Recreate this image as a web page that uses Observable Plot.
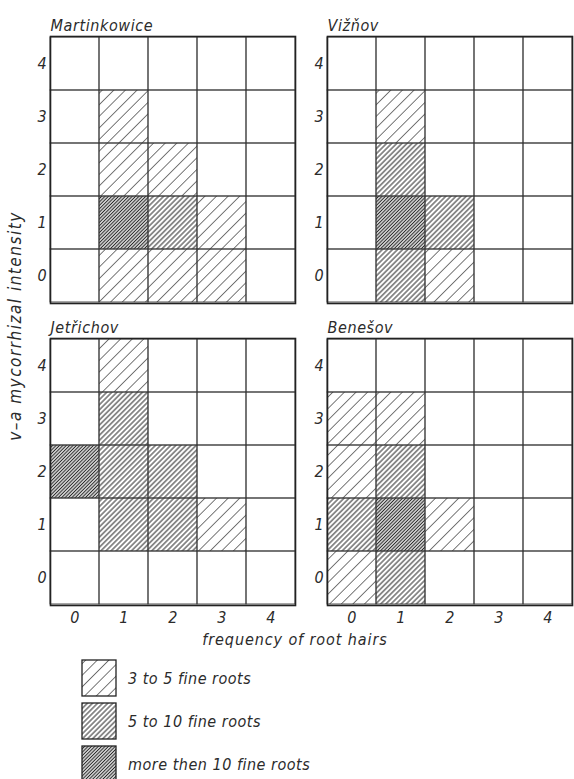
<!DOCTYPE html>
<html><head><meta charset="utf-8">
<script src="https://cdn.jsdelivr.net/npm/d3@7"></script>
<script src="https://cdn.jsdelivr.net/npm/@observablehq/plot@0.6"></script>
<style>
body{margin:0;background:#fff;}
#wrap{position:relative;width:574px;height:779px;overflow:hidden;background:#fff;
  font-family:"DejaVu Sans Condensed","Liberation Sans Narrow","DejaVu Sans",sans-serif;font-style:italic;color:#2b2b2b;}
#chart{position:absolute;left:0;top:0;}
.xlabel{position:absolute;left:0;width:590px;top:630px;text-align:center;font-size:16px;letter-spacing:0.9px;white-space:nowrap;}
.ylabel{position:absolute;left:15px;top:326px;transform:translate(-50%,-50%) rotate(-90deg);font-size:17px;letter-spacing:1.5px;white-space:nowrap;}
#legend{position:absolute;left:81px;top:660px;}
.item{display:flex;align-items:center;height:36px;margin-bottom:7px;}
.item svg{display:block;margin-right:11px;}
.item span{font-size:16px;letter-spacing:0.5px;}
</style></head><body><div id="wrap"><div id="chart"></div>
<div class="xlabel">frequency of root hairs</div>
<div class="ylabel">v–a mycorrhizal intensity</div>
<div id="legend"></div></div>
<script>
const sites = ["Martinkowice", "Vižňov", "Jetřichov", "Benešov"];
const siteCol = ["left", "right", "left", "right"];
const siteRow = ["top", "top", "bottom", "bottom"];
const rootHairTicks = [0, 1, 2, 3, 4];
const intensityTicks = [0, 1, 2, 3, 4];
const levels = [1, 2, 3];
const levelLabels = ["3 to 5 fine roots", "5 to 10 fine roots", "more then 10 fine roots"];
// [frequency of root hairs, v-a mycorrhizal intensity, fine-root class]
const martinkowiceCells = [[1,3,1],[1,2,1],[2,2,1],[1,1,3],[2,1,2],[3,1,1],[1,0,1],[2,0,1],[3,0,1]];
const viznovCells = [[1,3,1],[1,2,2],[1,1,3],[2,1,2],[1,0,2],[2,0,1]];
const jetrichovCells = [[1,4,1],[1,3,2],[0,2,3],[1,2,2],[2,2,2],[1,1,2],[2,1,2],[3,1,1]];
const benesovCells = [[0,3,1],[1,3,1],[0,2,1],[1,2,2],[0,1,2],[1,1,3],[2,1,1],[0,0,1],[1,0,2]];

const siteCells = [martinkowiceCells, viznovCells, jetrichovCells, benesovCells];
const cells = siteCells.flatMap((arr, i) => arr.map(([x, y, level]) =>
  ({site: sites[i], col: siteCol[i], row: siteRow[i], x, y, level})));
const grid = sites.flatMap((s, i) => rootHairTicks.flatMap(x => intensityTicks.map(y =>
  ({site: s, col: siteCol[i], row: siteRow[i], x, y}))));
const siteTable = sites.map((s, i) => ({site: s, col: siteCol[i], row: siteRow[i]}));
const xTickTable = rootHairTicks.map(x => ({x, row: "bottom"}));

const hatch = {1: {s: 8.2, c: "#6a6a6a", w: 0.9}, 2: {s: 3.6, c: "#3a3a3a", w: 1.1}, 3: {s: 2.4, c: "#262626", w: 1.2}};

const font = '"DejaVu Sans Condensed","Liberation Sans Narrow","DejaVu Sans",sans-serif';
const plot = Plot.plot({
  width: 574, height: 655,
  marginLeft: 50, marginRight: 1, marginTop: 35, marginBottom: 49,
  style: {fontFamily: font, fontStyle: "italic", color: "#2b2b2b", background: "white", overflow: "visible", letterSpacing: "0.6px"},
  x: {type: "band", domain: rootHairTicks, padding: 0, axis: null},
  y: {type: "band", domain: intensityTicks.slice().reverse(), padding: 0, axis: null},
  fx: {domain: ["left", "right"], padding: 0.115, axis: null},
  fy: {domain: ["top", "bottom"], padding: 0.1155, axis: null},
  marks: [
    Plot.cell(grid, {x: "x", y: "y", fx: "col", fy: "row", fill: "white", inset: 0}),
    ...levels.map(l => Plot.cell(cells.filter(d => d.level === l),
      {x: "x", y: "y", fx: "col", fy: "row", fill: `url(#hatch${l})`, inset: 0})),
    Plot.cell(grid, {x: "x", y: "y", fx: "col", fy: "row", fill: "none", stroke: "#3a3a3a", strokeWidth: 0.9, inset: 0}),
    Plot.frame({stroke: "#222", strokeWidth: 1.6}),
    Plot.text(siteTable, {fx: "col", fy: "row", text: "site", frameAnchor: "top-left", textAnchor: "start",
      lineAnchor: "bottom", dy: -6, fontSize: 16, fontStyle: "italic"}),
    Plot.text(intensityTicks, {y: d => d, text: d => String(d), frameAnchor: "left", dx: -13, fontSize: 16, fontStyle: "italic"}),
    Plot.text(xTickTable, {x: "x", fy: "row", text: d => String(d.x), frameAnchor: "bottom", lineAnchor: "top", dy: 6, fontSize: 16, fontStyle: "italic"})
  ]
});
document.getElementById("chart").appendChild(plot);

const svg = plot.tagName.toLowerCase() === "svg" ? plot : plot.querySelector("svg");
const defs = d3.select(svg).insert("defs", ":first-child");
for (const l of levels) {
  const h = hatch[l];
  const p = defs.append("pattern").attr("id", `hatch${l}`).attr("patternUnits", "userSpaceOnUse")
    .attr("width", h.s).attr("height", h.s).attr("patternTransform", "rotate(45)");
  p.append("rect").attr("width", h.s).attr("height", h.s).attr("fill", "white");
  p.append("line").attr("x1", h.s / 2).attr("x2", h.s / 2).attr("y1", -1).attr("y2", h.s + 1)
    .attr("stroke", h.c).attr("stroke-width", h.w);
}

const legend = d3.select("#legend");
levels.forEach((l, i) => {
  const item = legend.append("div").attr("class", "item");
  const s = item.append("svg").attr("width", 36).attr("height", 38);
  s.append("rect").attr("x", 1).attr("y", 1).attr("width", 34).attr("height", 36)
    .attr("fill", `url(#hatch${l})`).attr("stroke", "#222").attr("stroke-width", 1.3);
  item.append("span").text(levelLabels[i]);
});
</script></body></html>
